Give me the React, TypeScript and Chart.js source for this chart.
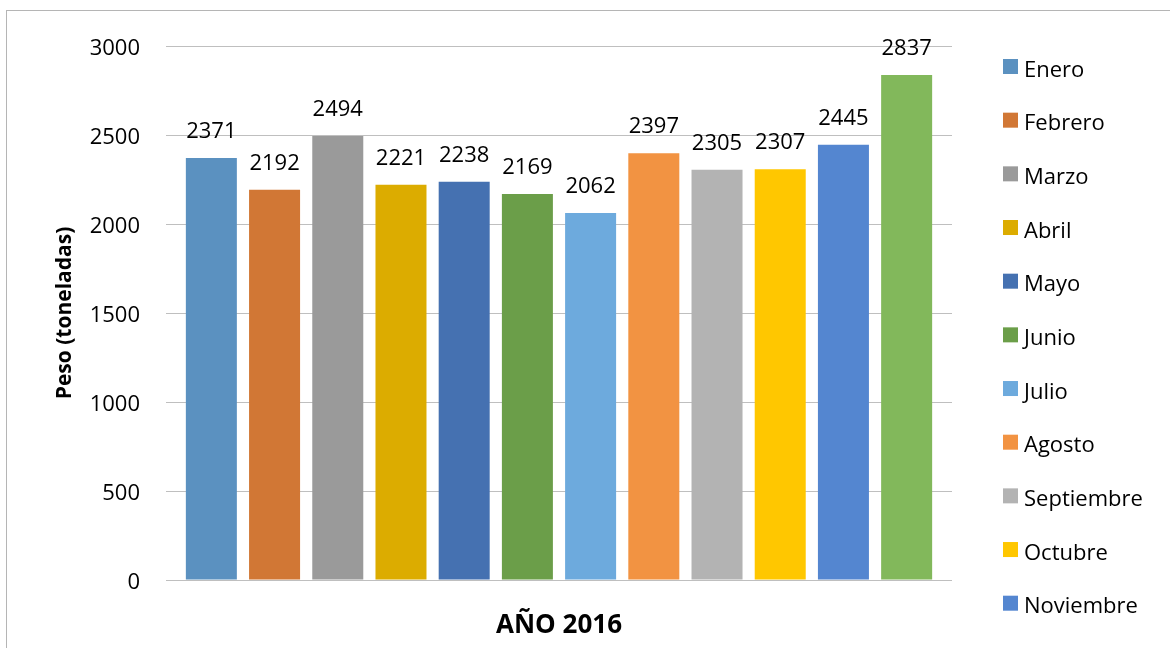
import React, { useEffect, useRef } from 'react';
import { Chart, registerables } from 'chart.js';

Chart.register(...registerables);

const categories = [''];
const xTitle = 'AÑO 2016';
const yTitle = 'Peso (toneladas)';
const months = ['Enero', 'Febrero', 'Marzo', 'Abril', 'Mayo', 'Junio', 'Julio', 'Agosto', 'Septiembre', 'Octubre', 'Noviembre', 'Diciembre'];
const values = [2371, 2192, 2494, 2221, 2238, 2169, 2062, 2397, 2305, 2307, 2445, 2837];
const colors = ['#5B91C0', '#D17735', '#9A9A9A', '#DCAC00', '#4571B1', '#6B9E49', '#6DAADD', '#F29342', '#B3B3B3', '#FFC700', '#5486D0', '#82B85B'];
const yMin = 0;
const yMax = 3000;
const yStep = 500;

const FONT = '"Open Sans", "Noto Sans", sans-serif';

const frame = {
  id: 'frame',
  beforeDraw(chart: any) {
    const { ctx } = chart;
    ctx.save();
    ctx.fillStyle = '#ffffff';
    ctx.fillRect(0, 0, chart.width, chart.height);
    ctx.strokeStyle = '#b5b5b5';
    ctx.lineWidth = 1;
    ctx.strokeRect(6.5, 10.5, chart.width + 100, chart.height + 100);
    ctx.restore();
  },
};

const valueLabels = {
  id: 'valueLabels',
  afterDatasetsDraw(chart: any) {
    const { ctx } = chart;
    ctx.save();
    ctx.font = `22px ${FONT}`;
    ctx.fillStyle = '#000';
    ctx.textAlign = 'center';
    ctx.textBaseline = 'alphabetic';
    chart.data.datasets.forEach((ds: any, i: number) => {
      const meta = chart.getDatasetMeta(i);
      meta.data.forEach((el: any, j: number) => {
        ctx.fillText(String(ds.data[j]), el.x, el.y - 20);
      });
    });
    ctx.restore();
  },
};

const sideLegend = {
  id: 'sideLegend',
  afterDraw(chart: any) {
    const { ctx, chartArea } = chart;
    const x0 = chartArea.right + 51;
    const top = 59;
    const step = 53.67;
    ctx.save();
    ctx.font = `22px ${FONT}`;
    ctx.textAlign = 'left';
    ctx.textBaseline = 'alphabetic';
    chart.data.datasets.forEach((ds: any, i: number) => {
      const y = top + i * step;
      ctx.fillStyle = ds.backgroundColor;
      ctx.fillRect(x0, y, 15, 15);
      ctx.fillStyle = '#000';
      ctx.fillText(ds.label, x0 + 21, y + 17.7);
    });
    ctx.restore();
  },
};

export default function App() {
  const ref = useRef<HTMLCanvasElement>(null);

  useEffect(() => {
    if (!ref.current) return;
    const chart = new Chart(ref.current, {
      type: 'bar',
      data: {
        labels: categories,
        datasets: months.map((m, i) => ({
          label: m,
          data: [values[i]],
          backgroundColor: colors[i],
          borderWidth: 0,
          categoryPercentage: 0.965,
          barPercentage: 0.807,
        })),
      },
      options: {
        responsive: false,
        animation: false,
        layout: { padding: { left: 0, right: 218, top: 46, bottom: 0 } },
        plugins: {
          legend: { display: false },
          tooltip: { enabled: false },
        },
        scales: {
          x: {
            grid: { display: false },
            border: { display: false },
            ticks: { display: false },
            title: {
              display: true,
              text: xTitle,
              color: '#000',
              font: { family: FONT, size: 26, weight: 'bold' },
              padding: { top: 0, bottom: 7 },
            },
            afterFit: (s: any) => {
              s.height = 68;
            },
          },
          y: {
            min: yMin,
            max: yMax,
            ticks: {
              stepSize: yStep,
              color: '#000',
              padding: 26,
              labelOffset: 3,
              font: { family: FONT, size: 22 },
              callback: (v: any) => String(v),
            },
            grid: { color: '#bfbfbf', drawTicks: false, lineWidth: 1 },
            border: { display: false },
            title: {
              display: true,
              text: yTitle,
              color: '#000',
              font: { family: FONT, size: 21, weight: 'bold' },
              padding: { top: 52, bottom: 0 },
            },
            afterFit: (s: any) => {
              s.width = 166;
            },
          },
        },
      },
      plugins: [frame, valueLabels, sideLegend],
    } as any);
    return () => chart.destroy();
  }, []);

  return (
    <div style={{ position: 'absolute', left: 0, top: 0, width: 1170, height: 648 }}>
      <canvas ref={ref} width={1170} height={648} style={{ width: 1170, height: 648, display: 'block' }} />
    </div>
  );
}
